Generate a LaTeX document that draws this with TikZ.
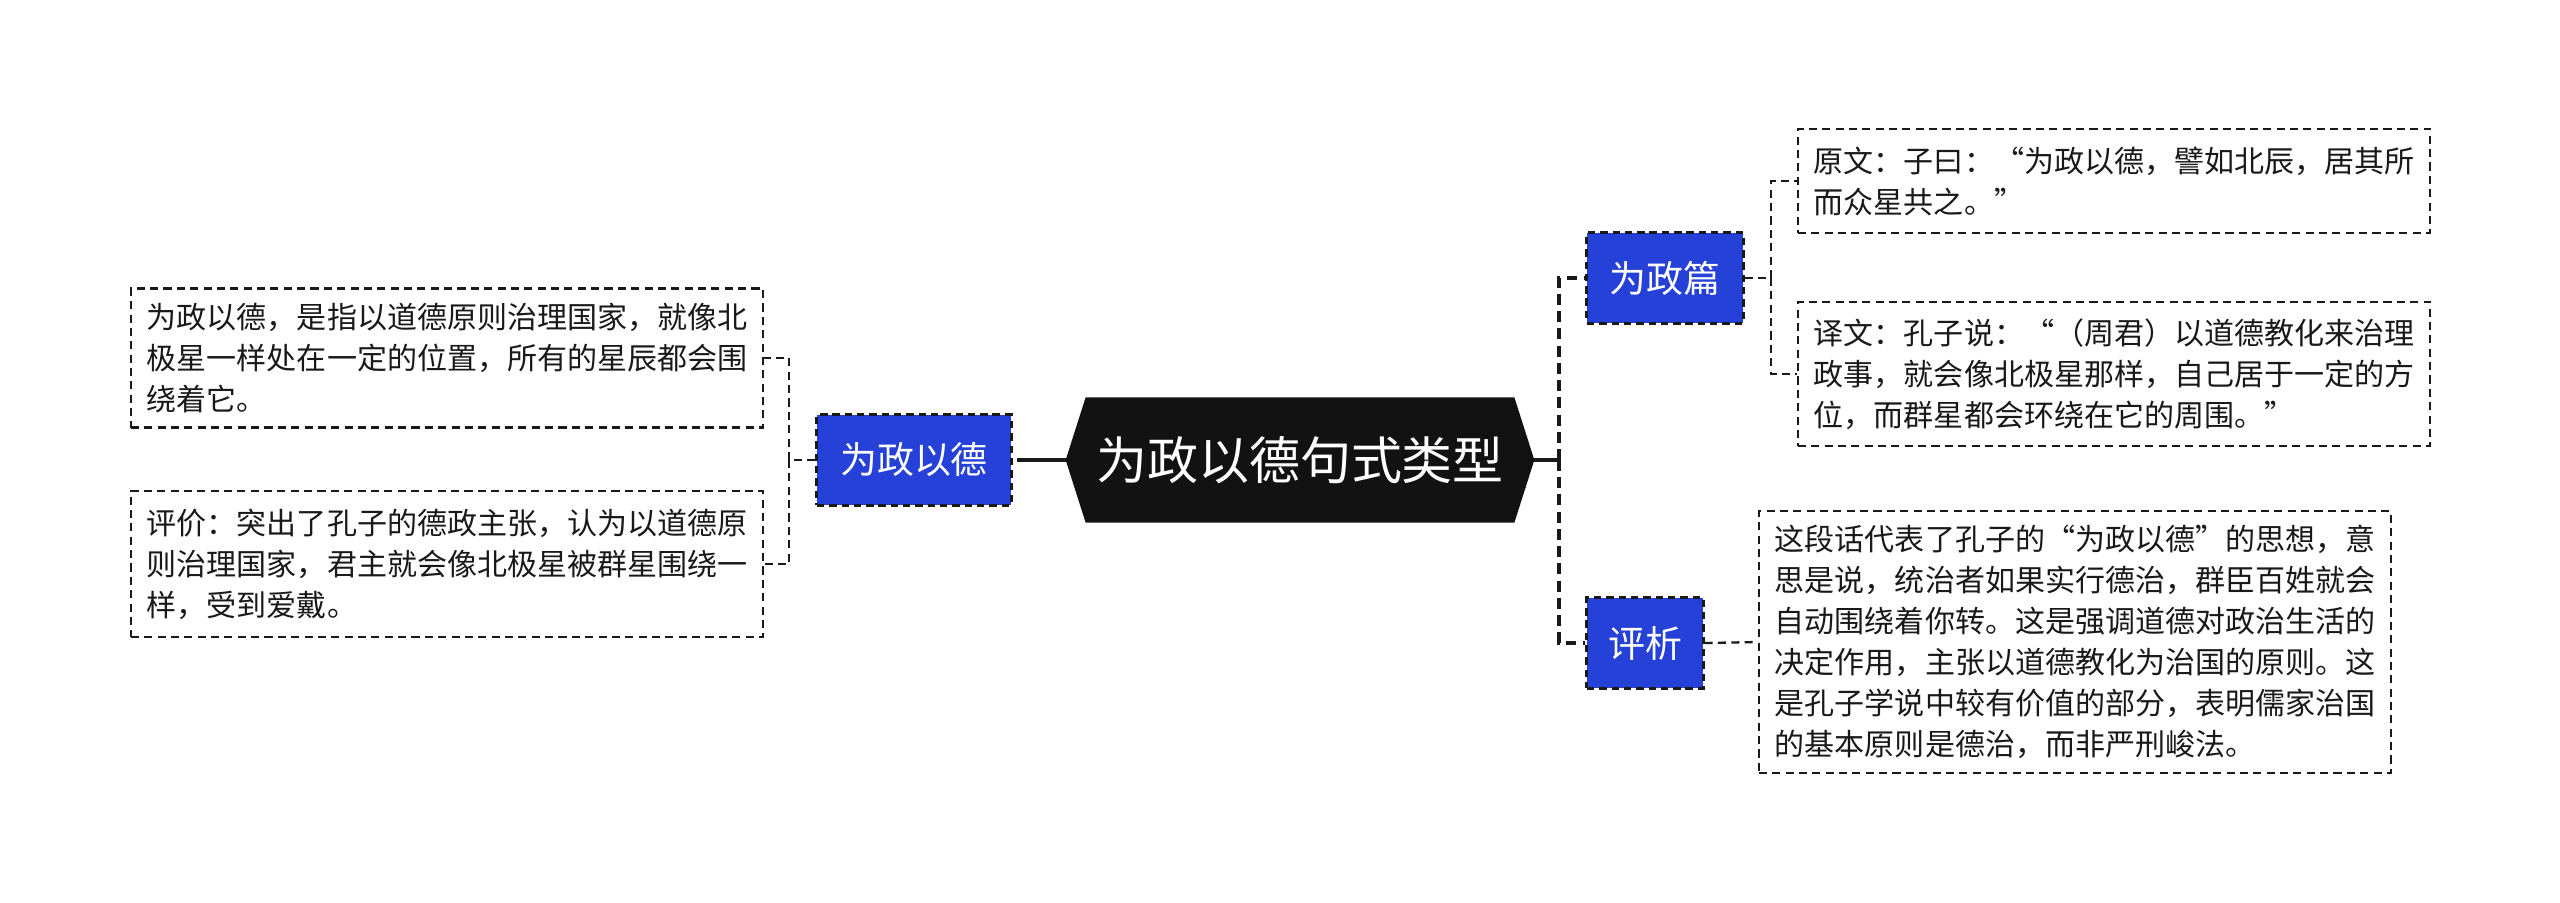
\documentclass[tikz,border=0pt]{standalone}
\usepackage{fontspec}
\setmainfont{Noto Sans CJK SC}
\usetikzlibrary{calc, backgrounds}
\definecolor{hubblue}{HTML}{2541D8}

\begin{document}
\begin{tikzpicture}[
  x=0.01cm, y=-0.01cm,
  root/.style={rectangle, minimum width=4.67cm, minimum height=1.24cm, inner sep=0pt,
               text=white, font=\fontsize{14.5pt}{17pt}\selectfont},
  hub/.style={rectangle, draw=black!90, fill=hubblue, dash pattern=on 2.1pt off 1.4pt,
              line width=0.85pt, minimum width=#1, minimum height=0.9cm, inner sep=0pt,
              text=white, font=\fontsize{10.5pt}{12pt}\selectfont},
  leaf/.style={rectangle, draw=black!90, dash pattern=on 2.3pt off 1.5pt, line width=0.6pt,
               text width=6.0cm, inner xsep=0.16cm, inner ysep=0pt, minimum height=#1,
               align=left, text=black!90, font=\fontsize{8.54pt}{11.67pt}\selectfont},
  stem/.style={line width=0.9pt, black!90},
  trunk/.style={line width=1.1pt, black!90, dash pattern=on 3.1pt off 1.8pt},
  twig/.style={line width=0.65pt, black!90, dash pattern=on 2.3pt off 1.5pt}
]
\useasboundingbox (0,0) rectangle (2560,903);

% ---- centre ----
\node[root] (root) at (1300,460) {为政以德句式类型};
\begin{scope}[on background layer]
  \fill[black!93] (root.west) -- ($(root.north west)+(20,0)$) -- ($(root.north east)+(-20,0)$)
    -- (root.east) -- ($(root.south east)+(-20,0)$) -- ($(root.south west)+(20,0)$) -- cycle;
\end{scope}

% ---- left : 为政以德 ----
\node[hub=1.94cm] (wzyd) at (914,460) {为政以德};
\node[leaf=1.39cm] (wzyd-a) at (447,358)
  {为政以德，是指以道德原则治理国家，就像北\\极星一样处在一定的位置，所有的星辰都会围\\绕着它。};
\node[leaf=1.46cm] (wzyd-b) at (447,564)
  {评价：突出了孔子的德政主张，认为以道德原\\则治理国家，君主就会像北极星被群星围绕一\\样，受到爱戴。};
\coordinate (lmid) at (1028,460);
\coordinate (ljoin) at (789,460);
\draw[stem]  (root.west) -- (lmid);
\draw[trunk] (lmid) -- (wzyd.east);
\draw[twig]  (wzyd.west) -- (ljoin);
\draw[twig]  (ljoin) |- (wzyd-a.east);
\draw[twig]  (ljoin) |- (wzyd-b.east);

% ---- right : 为政篇 / 评析 ----
\node[hub=1.56cm] (wzp) at (1665,278) {为政篇};
\node[hub=1.16cm] (px)  at (1645,643) {评析};
\coordinate (rjoin) at (1559,460);
\draw[stem]  (root.east) -- (rjoin);
\draw[trunk] (rjoin) |- (wzp.west);
\draw[trunk] (rjoin) |- (px.west);

\node[leaf=1.04cm] (wzp-a) at (2114,181)
  {原文：子曰：“为政以德，譬如北辰，居其所\\而众星共之。”};
\node[leaf=1.44cm] (wzp-b) at (2114,374)
  {译文：孔子说：“（周君）以道德教化来治理\\政事，就会像北极星那样，自己居于一定的方\\位，而群星都会环绕在它的周围。”};
\coordinate (tjoin) at (1771,278);
\draw[twig] (wzp.east) -- (tjoin);
\draw[twig] (tjoin) |- (wzp-a.west);
\draw[twig] (tjoin) |- (wzp-b.west);

\node[leaf=2.61cm] (px-a) at (2075,642)
  {这段话代表了孔子的“为政以德”的思想，意\\思是说，统治者如果实行德治，群臣百姓就会\\自动围绕着你转。这是强调道德对政治生活的\\决定作用，主张以道德教化为治国的原则。这\\是孔子学说中较有价值的部分，表明儒家治国\\的基本原则是德治，而非严刑峻法。};
\draw[twig] (px.east) -- (px-a.west);

\end{tikzpicture}
\end{document}
